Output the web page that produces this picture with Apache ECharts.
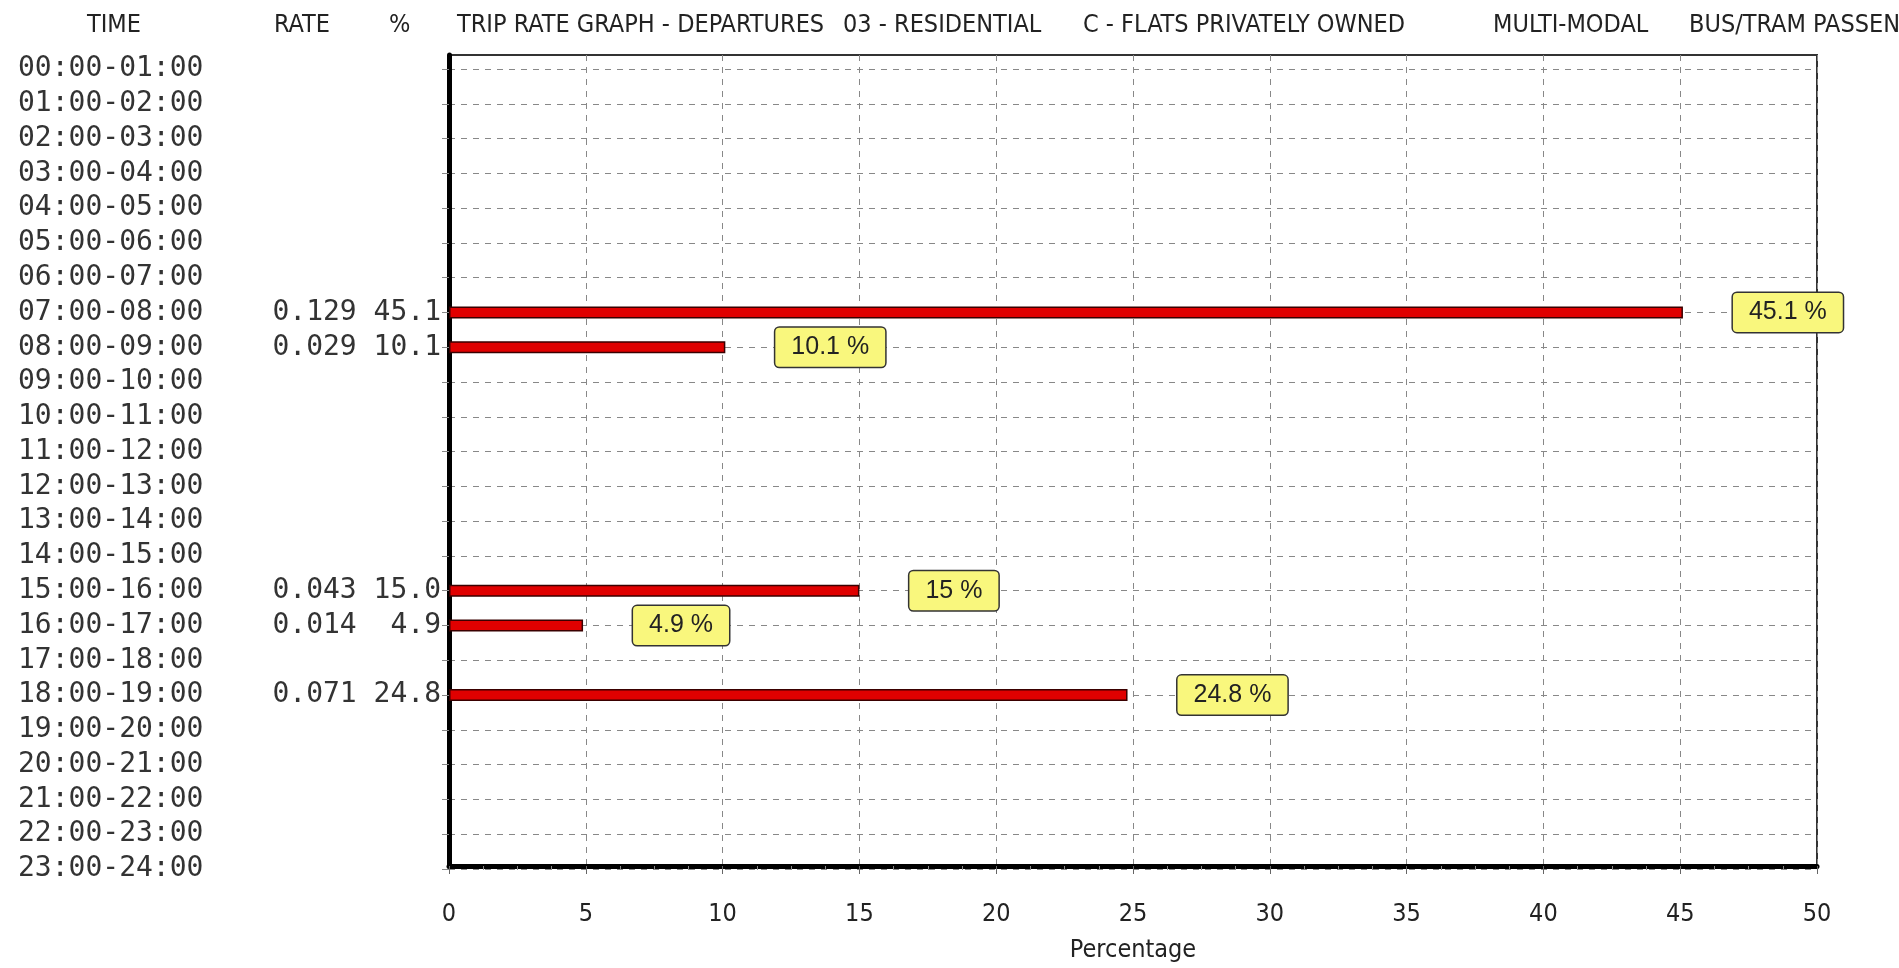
<!DOCTYPE html>
<html>
<head>
<meta charset="utf-8">
<script src="https://cdn.jsdelivr.net/npm/echarts@6/dist/echarts.min.js"></script>
<style>
  html, body, #main { margin: 0; padding: 0; width: 100%; height: 100%; overflow: hidden; background: #fff; }
</style>
</head>
<body>
<div id="main"></div>
<script>
// 时间段
const times = [
  "00:00-01:00", "01:00-02:00", "02:00-03:00", "03:00-04:00", "04:00-05:00", "05:00-06:00",
  "06:00-07:00", "07:00-08:00", "08:00-09:00", "09:00-10:00", "10:00-11:00", "11:00-12:00",
  "12:00-13:00", "13:00-14:00", "14:00-15:00", "15:00-16:00", "16:00-17:00", "17:00-18:00",
  "18:00-19:00", "19:00-20:00", "20:00-21:00", "21:00-22:00", "22:00-23:00", "23:00-24:00"
];
// RATE 列
const rates = [null, null, null, null, null, null, null, 0.129, 0.029, null, null, null,
  null, null, null, 0.043, 0.014, null, 0.071, null, null, null, null, null];
// % 列 (也是柱子长度)
const percents = [null, null, null, null, null, null, null, 45.1, 10.1, null, null, null,
  null, null, null, 15, 4.9, null, 24.8, null, null, null, null, null];
const xTicks = [0, 5, 10, 15, 20, 25, 30, 35, 40, 45, 50];

const headFont = "'Liberation Sans Narrow', 'DejaVu Sans Condensed', sans-serif";
const monoFont = "'DejaVu Sans Mono', monospace";

let myChart = echarts.init(document.getElementById("main"));
myChart.setOption({
  backgroundColor: "#fff",
  animation: false,
  // 表头 (标题分段放置)
  title: [
    { text: "TIME", left: 82, top: 8 },
    { text: "RATE", left: 269, top: 8 },
    { text: "%", left: 384, top: 8 },
    { text: "TRIP RATE GRAPH - DEPARTURES", left: 452, top: 8 },
    { text: "03 - RESIDENTIAL", left: 838, top: 8 },
    { text: "C - FLATS PRIVATELY OWNED", left: 1078, top: 8 },
    { text: "MULTI-MODAL", left: 1488, top: 8 },
    { text: "BUS/TRAM PASSENGERS", left: 1684, top: 8 }
  ].map(t => Object.assign(t, {
    textStyle: { fontFamily: headFont, fontSize: 25, fontWeight: "normal", color: "#222" }
  })),
  grid: [
    // 0: 柱子 + 横向虚线 (类目在刻度上)
    { left: 449, right: 82, top: 69, bottom: 99 },
    // 1: 外框 + X 轴
    { left: 449, right: 82, top: 55, bottom: 86, show: true, borderColor: "#333", borderWidth: 2 }
  ],
  xAxis: [
    { gridIndex: 0, type: "value", min: 0, max: 50, show: false },
    {
      gridIndex: 1, type: "value", min: 0, max: 50, interval: 5,
      axisLine: { show: true, lineStyle: { color: "#000", width: 5 } },
      axisTick: { show: true, length: 8, lineStyle: { color: "#666" } },
      minorTick: { show: true, splitNumber: 4, length: 4, lineStyle: { color: "#888" } },
      axisLabel: {
        margin: 36, fontFamily: headFont, fontSize: 25, color: "#222",
        formatter: v => xTicks.includes(v) ? String(v) : ""
      },
      splitLine: { show: true, lineStyle: { color: "#888", type: [6, 6], width: 1 } },
      name: "Percentage", nameLocation: "middle", nameGap: 72,
      nameTextStyle: { fontFamily: headFont, fontSize: 25, color: "#222" }
    }
  ],
  yAxis: [
    {
      gridIndex: 0, type: "category", position: "left", data: times, inverse: true, boundaryGap: false,
      axisLine: { show: false },
      axisTick: { show: true, interval: 0, length: 7, lineStyle: { color: "#888" } },
      axisLabel: {
        interval: 0, hideOverlap: false, align: "left", margin: 431,
        fontFamily: monoFont, fontSize: 28, color: "#333"
      },
      splitLine: { show: true, interval: 0, lineStyle: { color: "#888", type: [6, 6], width: 1 } }
    },
    {
      // RATE 和 % 两列
      gridIndex: 0, type: "category", position: "left", offset: 0, data: times, inverse: true, boundaryGap: false,
      axisLine: { show: false }, axisTick: { show: false }, splitLine: { show: false },
      axisLabel: {
        interval: 0, hideOverlap: false, align: "right", margin: 8,
        fontFamily: monoFont, fontSize: 28, color: "#333",
        formatter: (v, i) => rates[i] == null ? "" :
          rates[i].toFixed(3) + " " + percents[i].toFixed(1).padStart(4, " ")
      }
    },
    {
      gridIndex: 1, type: "value", min: 0, max: 1,
      axisLine: { show: true, lineStyle: { color: "#000", width: 5 } },
      axisTick: { show: false }, axisLabel: { show: false }, splitLine: { show: false }
    }
  ],
  series: [
    {
      type: "bar",
      xAxisIndex: 0,
      yAxisIndex: 0,
      data: percents,
      barWidth: 12,
      itemStyle: { color: "#e00000", borderColor: "#3a0000", borderWidth: 1.5 },
      label: {
        show: true,
        position: "right",
        distance: 50,
        formatter: p => p.value + " %",
        fontFamily: "'Liberation Sans', Arial, sans-serif",
        fontSize: 25,
        color: "#222",
        backgroundColor: "#f9f77d",
        borderColor: "#333",
        borderWidth: 1.5,
        borderRadius: 4,
        padding: [7, 16]
      }
    }
  ]
});

window.onresize = myChart.resize;
</script>
</body>
</html>
